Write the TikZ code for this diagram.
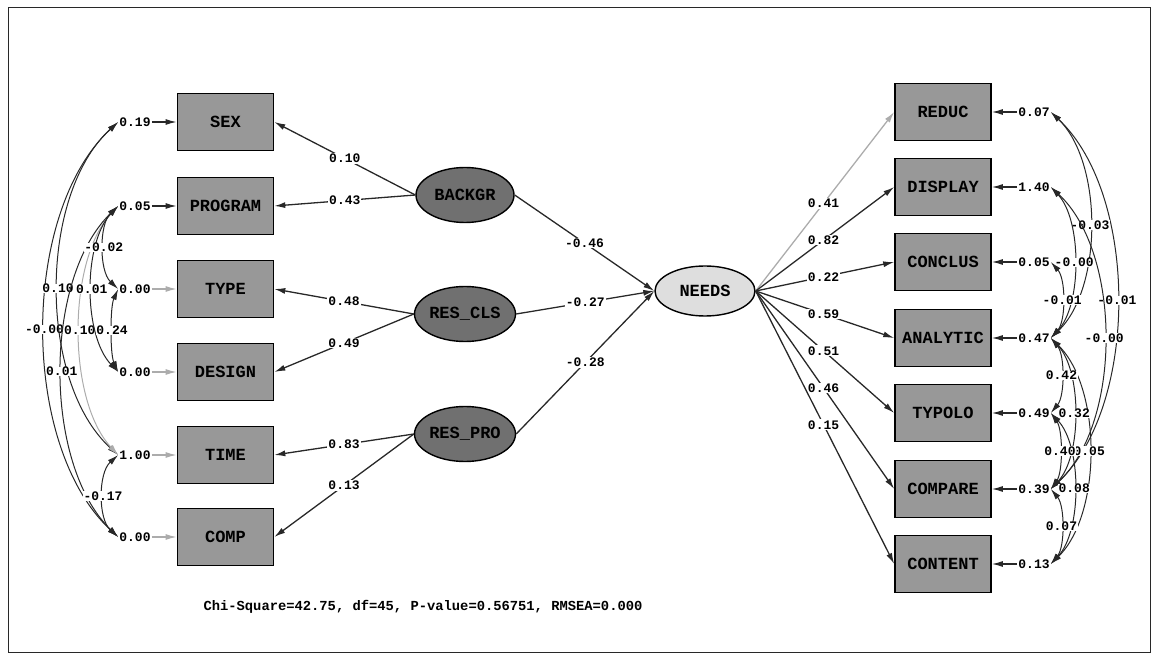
\documentclass[tikz,border=0pt]{standalone}
\usepackage{fontspec}
\newfontfamily\lisfont{Liberation Mono}
\usetikzlibrary{arrows.meta,shapes.geometric}
\newcommand\lisBoxFont{\lisfont\bfseries\fontsize{17}{20}\selectfont}
\newcommand\lisNumFont{\lisfont\bfseries\fontsize{13}{15}\selectfont}
\newcommand\lisFitFont{\lisfont\bfseries\fontsize{13.8}{16}\selectfont}
\definecolor{boxgray}{RGB}{152,152,152}
\definecolor{latgray}{RGB}{112,112,112}
\definecolor{needsgray}{RGB}{222,222,222}
\definecolor{linegray}{RGB}{40,40,40}
\definecolor{lightline}{RGB}{172,172,172}
\begin{document}
\begin{tikzpicture}[x=1pt,y=-1pt,
  >={Latex[length=11pt,width=6pt]},
  obs/.style={draw=black,line width=1.6pt,fill=boxgray,minimum width=96,minimum height=57,inner sep=0pt,font=\lisBoxFont},
  lat/.style={ellipse,draw=black,line width=1.4pt,fill=latgray,minimum width=98,minimum height=55,inner sep=0pt,font=\lisBoxFont},
  endo/.style={lat,fill=needsgray,minimum width=100,minimum height=50},
  elbl/.style={font=\lisNumFont,inner sep=1pt,fill=white},
  clbl/.style={font=\lisNumFont,inner sep=0.5pt,fill=white},
  plbl/.style={font=\lisNumFont,inner sep=1pt,fill=white},
  pth/.style={draw=linegray,line width=1.3pt,->},
  lpth/.style={draw=lightline,line width=1.3pt,->},
  cov/.style={draw=linegray,line width=1pt,<->},
  lcov/.style={draw=lightline,line width=1pt,<->},
  frame/.style={draw=linegray,line width=1pt}]
\useasboundingbox (0,0) rectangle (1157,660);
\draw[frame] (8,8) rectangle (1150,652);

% observed left
\node[obs] (SEX) at (225.5,122) {SEX};
\node[obs] (PROGRAM) at (225.5,206) {PROGRAM};
\node[obs] (TYPE) at (225.5,289) {TYPE};
\node[obs] (DESIGN) at (225.5,372) {DESIGN};
\node[obs] (TIME) at (225.5,455) {TIME};
\node[obs] (COMP) at (225.5,537) {COMP};

% latent
\node[lat] (BACKGR) at (465,195) {BACKGR};
\node[lat] (RESCLS) at (465,314) {RES\_CLS};
\node[lat] (RESPRO) at (465,434) {RES\_PRO};
\node[endo] (NEEDS) at (705,291) {NEEDS};

% observed right
\node[obs] (REDUC) at (943,112) {REDUC};
\node[obs] (DISPLAY) at (943,187) {DISPLAY};
\node[obs] (CONCLUS) at (943,262) {CONCLUS};
\node[obs] (ANALYTIC) at (943,338) {ANALYTIC};
\node[obs] (TYPOLO) at (943,413) {TYPOLO};
\node[obs] (COMPARE) at (943,489) {COMPARE};
\node[obs] (CONTENT) at (943,564) {CONTENT};

% error variances left
\node[elbl] (eSEX) at (135,122) {0.19};
\node[elbl] (ePROGRAM) at (135,206) {0.05};
\node[elbl] (eTYPE) at (135,289) {0.00};
\node[elbl] (eDESIGN) at (135,372) {0.00};
\node[elbl] (eTIME) at (135,455) {1.00};
\node[elbl] (eCOMP) at (135,537) {0.00};
\draw[pth] (eSEX) -- (SEX);
\draw[pth] (ePROGRAM) -- (PROGRAM);
\draw[lpth] (eTYPE) -- (TYPE);
\draw[lpth] (eDESIGN) -- (DESIGN);
\draw[lpth] (eTIME) -- (TIME);
\draw[lpth] (eCOMP) -- (COMP);

% error variances right
\node[elbl] (eREDUC) at (1034,112) {0.07};
\node[elbl] (eDISPLAY) at (1034,187) {1.40};
\node[elbl] (eCONCLUS) at (1034,262) {0.05};
\node[elbl] (eANALYTIC) at (1034,338) {0.47};
\node[elbl] (eTYPOLO) at (1034,413) {0.49};
\node[elbl] (eCOMPARE) at (1034,489) {0.39};
\node[elbl] (eCONTENT) at (1034,564) {0.13};
\draw[pth] (eREDUC) -- (REDUC);
\draw[pth] (eDISPLAY) -- (DISPLAY);
\draw[pth] (eCONCLUS) -- (CONCLUS);
\draw[pth] (eANALYTIC) -- (ANALYTIC);
\draw[pth] (eTYPOLO) -- (TYPOLO);
\draw[pth] (eCOMPARE) -- (COMPARE);
\draw[pth] (eCONTENT) -- (CONTENT);

% loadings left
\draw[pth] (BACKGR.west) -- node[plbl]{0.10} (SEX.east);
\draw[pth] (BACKGR.west) -- node[plbl]{0.43} (PROGRAM.east);
\draw[pth] (RESCLS.west) -- node[plbl]{0.48} (TYPE.east);
\draw[pth] (RESCLS.west) -- node[plbl]{0.49} (DESIGN.east);
\draw[pth] (RESPRO.west) -- node[plbl]{0.83} (TIME.east);
\draw[pth] (RESPRO.west) -- node[plbl]{0.13} (COMP.east);

% structural paths
\draw[pth] (BACKGR.east) -- node[plbl]{-0.46} (NEEDS.west);
\draw[pth] (RESCLS.east) -- node[plbl]{-0.27} (NEEDS.west);
\draw[pth] (RESPRO.east) -- node[plbl]{-0.28} (NEEDS.west);

% loadings right
\draw[lpth] (NEEDS.east) -- node[plbl,pos=0.49]{0.41} (REDUC.west);
\draw[pth] (NEEDS.east) -- node[plbl,pos=0.49]{0.82} (DISPLAY.west);
\draw[pth] (NEEDS.east) -- node[plbl,pos=0.49]{0.22} (CONCLUS.west);
\draw[pth] (NEEDS.east) -- node[plbl,pos=0.49]{0.59} (ANALYTIC.west);
\draw[pth] (NEEDS.east) -- node[plbl,pos=0.49]{0.51} (TYPOLO.west);
\draw[pth] (NEEDS.east) -- node[plbl,pos=0.49]{0.46} (COMPARE.west);
\draw[pth] (NEEDS.east) -- node[plbl,pos=0.49]{0.15} (CONTENT.west);

% covariances left
\draw[cov] (eSEX.west) .. controls (20,213) and (20,446) .. node[clbl]{-0.00} (eCOMP.west);
\draw[cov] (eSEX.west) .. controls (38,195) and (38,382) .. node[clbl]{0.10} (eTIME.west);
\draw[cov] (ePROGRAM.west) .. controls (43,279) and (43,464) .. node[clbl]{0.01} (eCOMP.west);
\draw[lcov] (ePROGRAM.west) .. controls (67,261) and (67,400) .. node[clbl]{0.10} (eTIME.west);
\draw[cov] (ePROGRAM.west) .. controls (83,243) and (83,335) .. node[clbl]{0.01} (eDESIGN.west);
\draw[cov] (ePROGRAM.west) .. controls (99,224) and (99,271) .. node[clbl]{-0.02} (eTYPE.west);
\draw[cov] (eTYPE.west) .. controls (110,307) and (110,354) .. node[clbl]{0.24} (eDESIGN.west);
\draw[cov] (eTIME.west) .. controls (98,473) and (98,519) .. node[clbl]{-0.17} (eCOMP.west);

% covariances right
\draw[cov] (eREDUC.east) .. controls (1139,195) and (1139,406) .. node[clbl]{-0.01} (eCOMPARE.east);
\draw[cov] (eREDUC.east) .. controls (1103,162) and (1103,288) .. node[clbl]{-0.03} (eANALYTIC.east);
\draw[cov] (eDISPLAY.east) .. controls (1122,253) and (1122,423) .. node[clbl]{-0.00} (eCOMPARE.east);
\draw[cov] (eDISPLAY.east) .. controls (1082,220) and (1082,305) .. node[clbl]{-0.00} (eANALYTIC.east);
\draw[cov] (eCONCLUS.east) .. controls (1066,279) and (1066,321) .. node[clbl]{-0.01} (eANALYTIC.east);
\draw[cov] (eANALYTIC.east) .. controls (1102,388) and (1102,514) .. node[clbl]{0.05} (eCONTENT.east);
\draw[cov] (eANALYTIC.east) .. controls (1082,371) and (1082,456) .. node[clbl]{0.32} (eCOMPARE.east);
\draw[cov] (eANALYTIC.east) .. controls (1065,355) and (1065,396) .. node[clbl]{0.42} (eTYPOLO.east);
\draw[cov] (eTYPOLO.east) .. controls (1082,446) and (1082,531) .. node[clbl]{0.08} (eCONTENT.east);
\draw[cov] (eTYPOLO.east) .. controls (1063,430) and (1063,472) .. node[clbl]{0.40} (eCOMPARE.east);
\draw[cov] (eCOMPARE.east) .. controls (1065,506) and (1065,547) .. node[clbl]{0.07} (eCONTENT.east);

% fit statistics
\node[font=\lisFitFont,inner sep=0pt] (fit) at (423,607) {Chi-Square=42.75, df=45, P-value=0.56751, RMSEA=0.000};
\end{tikzpicture}
\end{document}
